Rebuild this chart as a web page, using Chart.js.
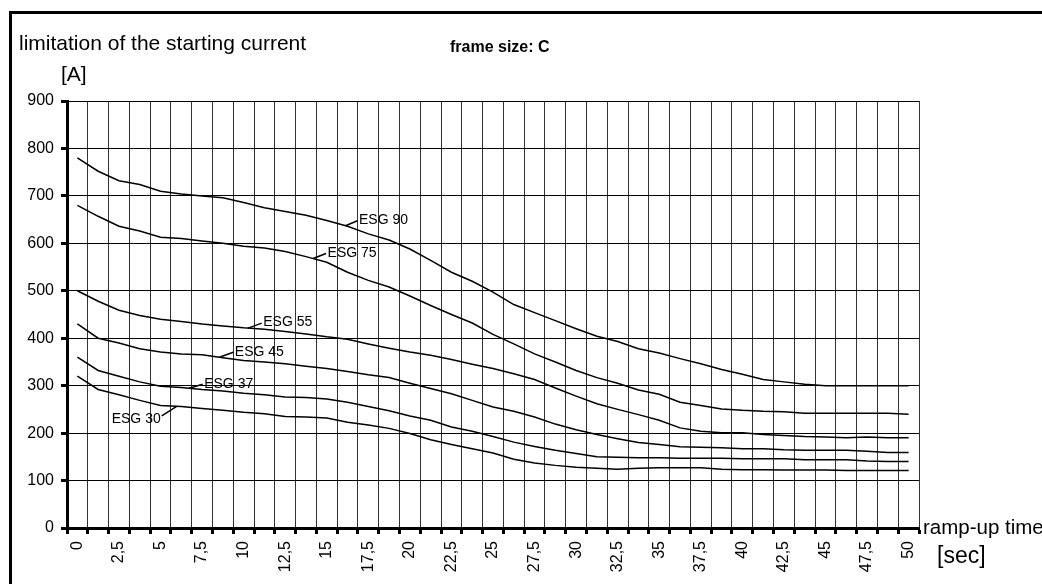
<!DOCTYPE html>
<html>
<head>
<meta charset="utf-8">
<script src="https://cdn.jsdelivr.net/npm/chart.js@4.4.0/dist/chart.umd.min.js"></script>
<style>
  html, body { margin: 0; padding: 0; background: #fff; }
  canvas { display: block; }
</style>
</head>
<body>
<canvas id="myChart" width="1042" height="584"></canvas>
<script>
// ramp-up time [sec], one category per 1.25 s
const rampTimes = [0, 1.25, 2.5, 3.75, 5, 6.25, 7.5, 8.75, 10, 11.25, 12.5, 13.75, 15, 16.25,
  17.5, 18.75, 20, 21.25, 22.5, 23.75, 25, 26.25, 27.5, 28.75, 30, 31.25, 32.5, 33.75,
  35, 36.25, 37.5, 38.75, 40, 41.25, 42.5, 43.75, 45, 46.25, 47.5, 48.75, 50];

// starting current limit [A]
const esg90 = [780, 752, 732, 724, 710, 704, 700, 696, 686, 675, 667, 659, 648, 636, 620, 607,
  588, 564, 539, 520, 497, 471, 454, 437, 420, 404, 393, 378, 369, 357, 346, 334, 324, 313,
  308, 303, 300, 300, 300, 300, 300];
const esg75 = [680, 657, 636, 626, 613, 610, 605, 600, 594, 590, 583, 572, 560, 539, 522, 508,
  489, 469, 450, 432, 408, 388, 367, 350, 332, 317, 305, 291, 282, 265, 258, 251, 248, 246,
  245, 242, 242, 242, 242, 242, 240];
const esg55 = [500, 478, 459, 448, 440, 435, 430, 426, 422, 419, 414, 409, 403, 398, 388, 379,
  371, 364, 355, 345, 336, 325, 313, 295, 278, 262, 250, 239, 227, 211, 204, 201, 201, 197,
  195, 193, 192, 190, 192, 190, 190];
const esg45 = [430, 400, 390, 378, 371, 367, 365, 359, 353, 350, 346, 341, 336, 330, 323, 317,
  305, 294, 283, 269, 255, 246, 234, 219, 207, 197, 188, 180, 176, 171, 170, 169, 167, 167,
  165, 164, 164, 164, 162, 159, 159];
const esg37 = [360, 332, 320, 308, 299, 296, 292, 289, 284, 281, 276, 275, 272, 265, 256, 247,
  236, 227, 213, 204, 193, 181, 172, 164, 157, 150, 149, 148, 148, 147, 147, 147, 146, 146,
  146, 144, 144, 144, 141, 140, 140];
const esg30 = [320, 292, 281, 269, 258, 256, 252, 248, 244, 241, 235, 234, 232, 223, 217, 210,
  199, 186, 176, 167, 158, 145, 137, 132, 128, 126, 124, 126, 127, 127, 127, 124, 123, 123,
  122, 122, 122, 121, 121, 121, 121];

const seriesNames = ['ESG 90', 'ESG 75', 'ESG 55', 'ESG 45', 'ESG 37', 'ESG 30'];
const seriesData = [esg90, esg75, esg55, esg45, esg37, esg30];

const FONT = '"Liberation Sans", Arial, Helvetica, sans-serif';

// where each curve name sits: fractional category index on the curve + leader offset
const curveLabels = [
  { ds: 0, at: 12.9, dx: 12, dy: -5 },
  { ds: 1, at: 11.34, dx: 13, dy: -5 },
  { ds: 2, at: 8.22, dx: 13.5, dy: -5 },
  { ds: 3, at: 6.83, dx: 14, dy: -5 },
  { ds: 4, at: 5.37, dx: 13.7, dy: -4 },
  { ds: 5, at: 4.78, dx: -15, dy: 9.6 }
];

const decorPlugin = {
  id: 'decor',
  afterDatasetsDraw(chart) {
    const ctx = chart.ctx;
    ctx.save();
    ctx.strokeStyle = '#000';
    ctx.fillStyle = '#000';
    ctx.lineWidth = 1.5;
    ctx.font = '14px ' + FONT;
    ctx.textBaseline = 'middle';
    curveLabels.forEach(l => {
      const pts = chart.getDatasetMeta(l.ds).data;
      const i0 = Math.floor(l.at), f = l.at - i0;
      const x = pts[i0].x + (pts[i0 + 1].x - pts[i0].x) * f;
      const y = pts[i0].y + (pts[i0 + 1].y - pts[i0].y) * f;
      ctx.beginPath();
      ctx.moveTo(x, y);
      ctx.lineTo(x + l.dx, y + l.dy);
      ctx.stroke();
      if (l.dx > 0) {
        ctx.textAlign = 'left';
        ctx.fillText(seriesNames[l.ds], x + l.dx + 1.5, y + l.dy - 0.5);
      } else {
        ctx.textAlign = 'right';
        ctx.fillText(seriesNames[l.ds], x + l.dx - 1, y + l.dy + 3.5);
      }
    });
    ctx.restore();
  },
  afterDraw(chart) {
    const ctx = chart.ctx;
    ctx.save();
    // frame
    ctx.strokeStyle = '#000';
    ctx.lineWidth = 3;
    ctx.beginPath();
    ctx.moveTo(10.5, 600);
    ctx.lineTo(10.5, 12.5);
    ctx.lineTo(1050, 12.5);
    ctx.stroke();

    ctx.fillStyle = '#000';
    ctx.textBaseline = 'alphabetic';
    ctx.textAlign = 'left';
    ctx.font = '21px ' + FONT;
    ctx.fillText('limitation of the starting current', 19, 50);
    ctx.font = '21px ' + FONT;
    ctx.fillText('[A]', 61, 81);
    ctx.font = 'bold 16px ' + FONT;
    ctx.fillText('frame size: C', 450, 51.5);
    ctx.font = '20.5px ' + FONT;
    ctx.fillText('ramp-up time', 923, 534);
    ctx.font = '23px ' + FONT;
    ctx.fillText('[sec]', 937, 563);
    ctx.restore();
  }
};

const ctx = document.getElementById('myChart').getContext('2d');
new Chart(ctx, {
  type: 'line',
  data: {
    labels: rampTimes,
    datasets: seriesData.map((d, i) => ({
      label: seriesNames[i],
      data: d,
      borderColor: '#000',
      borderWidth: 1.5,
      pointRadius: 0,
      fill: false,
      tension: 0
    }))
  },
  options: {
    responsive: false,
    animation: false,
    devicePixelRatio: 1,
    layout: { padding: { left: 0, top: 101, right: 123, bottom: 0 } },
    plugins: {
      legend: { display: false },
      tooltip: { enabled: false },
      title: { display: false }
    },
    scales: {
      x: {
        type: 'category',
        offset: true,
        afterFit: s => { s.height = 56; },
        border: { display: true, color: '#000', width: 3 },
        grid: {
          offset: true,
          color: '#333',
          lineWidth: 1,
          tickLength: 6,
          tickColor: '#000',
          tickWidth: 3
        },
        ticks: {
          autoSkip: false,
          minRotation: 90,
          maxRotation: 90,
          padding: 7,
          color: '#000',
          font: { family: FONT, size: 16 },
          callback: function (val, index) {
            return index % 2 === 0 ? String(rampTimes[index]).replace('.', ',') : '';
          }
        }
      },
      y: {
        min: 0,
        max: 900,
        afterFit: s => { s.width = 67; },
        border: { display: true, color: '#000', width: 3 },
        grid: {
          color: '#000',
          lineWidth: 1,
          tickLength: 6,
          tickColor: '#000',
          tickWidth: 3
        },
        ticks: {
          stepSize: 100,
          padding: 7,
          color: '#000',
          font: { family: FONT, size: 16 }
        }
      }
    }
  },
  plugins: [decorPlugin]
});
</script>
</body>
</html>
